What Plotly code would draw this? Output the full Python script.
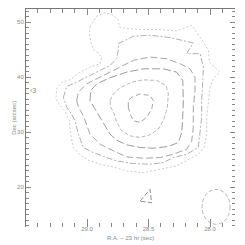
import plotly.graph_objects as go

# Contour vertices (R.A. offset in s, Dec in arcsec), outermost to innermost
c1_x = [28.976, 28.921, 28.854, 28.786, 28.745, 28.737, 28.678, 28.542, 28.407, 28.271, 28.149, 28.108,
        28.054, 28.014, 28.005, 27.919, 27.973, 28.000, 28.014, 28.027, 28.027, 28.049, 28.095, 28.190,
        28.271, 28.407, 28.542, 28.678, 28.786, 28.894, 28.989, 29.057, 29.111, 29.133, 29.144, 29.179,
        29.220, 29.252, 29.247, 29.206, 29.138, 29.057, 28.976, 28.894, 28.881, 28.908, 28.949, 28.970,
        28.981, 28.976]
c1_y = [49.15, 51.10, 51.71, 51.28, 50.37, 49.15, 48.84, 48.66, 48.66, 48.41, 49.45, 48.23,
        46.40, 44.88, 42.74, 40.91, 39.70, 38.17, 35.73, 32.68, 29.63, 27.20, 25.98, 24.88,
        23.84, 23.23, 22.62, 22.93, 23.66, 24.15, 24.88, 25.85, 27.20, 29.63, 32.07, 33.90,
        34.82, 36.04, 37.87, 39.09, 39.51, 40.91, 41.83, 42.44, 43.54, 44.39, 45.00, 46.40,
        47.93, 49.15]

c2_x = [29.192, 29.165, 29.057, 28.921, 28.813, 28.759, 28.745, 28.745, 28.623, 28.488, 28.325, 28.136,
        28.190, 28.081, 28.054, 28.060, 28.068, 28.068, 28.081, 28.095, 28.190, 28.298, 28.379, 28.488,
        28.623, 28.759, 28.840, 28.949, 29.030, 29.070, 29.098, 29.125, 29.165, 29.192]
c2_y = [36.34, 38.29, 39.39, 40.91, 42.13, 43.35, 44.88, 46.10, 47.44, 47.62, 47.20, 46.22,
        44.27, 44.27, 41.83, 38.78, 35.73, 32.68, 29.63, 27.20, 25.98, 25.37, 24.45, 24.15,
        24.27, 24.76, 25.37, 26.28, 27.20, 29.63, 32.07, 33.29, 34.51, 36.34]

c3_x = [29.084, 29.070, 29.003, 28.867, 28.732, 28.623, 28.488, 28.352, 28.244, 28.163, 28.122, 28.122,
        28.136, 28.136, 28.149, 28.190, 28.298, 28.407, 28.542, 28.678, 28.786, 28.894, 28.976, 29.003,
        29.030, 29.070, 29.084]
c3_y = [35.73, 37.26, 38.78, 40.30, 41.83, 43.05, 43.66, 43.35, 42.44, 41.52, 40.00, 37.56,
        34.51, 30.85, 28.41, 26.89, 25.98, 25.37, 25.24, 25.49, 26.59, 27.80, 29.63, 31.46,
        32.99, 34.51, 35.73]

c4_x = [28.976, 28.970, 28.921, 28.813, 28.678, 28.542, 28.379, 28.271, 28.222, 28.217, 28.222, 28.230,
        28.257, 28.339, 28.461, 28.569, 28.678, 28.759, 28.813, 28.854, 28.894, 28.935, 28.976]
c4_y = [35.73, 37.56, 38.78, 39.88, 40.91, 41.52, 41.52, 40.91, 39.39, 35.73, 32.68, 29.94,
        28.11, 27.38, 27.07, 27.20, 27.68, 28.54, 29.63, 31.16, 32.68, 34.21, 35.73]

c5_x = [28.813, 28.786, 28.732, 28.637, 28.542, 28.434, 28.358, 28.339, 28.347, 28.374, 28.420, 28.488,
        28.569, 28.650, 28.718, 28.759, 28.778, 28.808, 28.813]
c5_y = [35.73, 36.95, 38.05, 39.09, 39.51, 39.39, 38.48, 36.95, 34.51, 32.38, 30.55, 29.51,
        29.02, 29.33, 30.24, 31.77, 33.29, 34.51, 35.73]

c6_x = [28.664, 28.664, 28.637, 28.569, 28.488, 28.461, 28.474, 28.515, 28.569, 28.623, 28.650, 28.664]
c6_y = [34.51, 35.73, 36.34, 36.95, 36.65, 35.73, 34.21, 32.68, 31.77, 32.07, 33.29, 34.51]

tri_x = [28.569, 28.488, 28.474, 28.569]
tri_y = [17.44, 19.57, 17.13, 17.44]

beam_center = [27.951, 16.40]
beam_half_axes = [0.114, 3.17]

x_ticks = [29.0, 28.5, 28.0]
x_ticklabels = ["29.0", "28.5", "28.0"]
y_ticks = [50, 40, 30, 20]
y_ticklabels = ["50", "40", "30", "20"]

XR = [29.496, 27.797]
YR = [12.73, 52.40]

contours = [
    (c1_x, c1_y, "#b4b4b4", "2px,2px"),
    (c2_x, c2_y, "#8c8c8c", "6px,2px,2px,2px"),
    (c3_x, c3_y, "#7e7e7e", "7px,3px"),
    (c4_x, c4_y, "#6e6e6e", "8px,3px"),
    (c5_x, c5_y, "#9a9a9a", "4px,2px"),
    (c6_x, c6_y, "#7a7a7a", "5px,3px"),
]

fig = go.Figure()
for cx, cy, col, dash in contours:
    fig.add_trace(go.Scatter(x=cx, y=cy, mode="lines",
                             line=dict(color=col, width=0.7, dash=dash),
                             hoverinfo="skip", showlegend=False))
fig.add_trace(go.Scatter(x=tri_x, y=tri_y, mode="lines",
                         line=dict(color="#777777", width=0.8, dash="5px,2px"),
                         showlegend=False))
# dummy trace to draw top/right axes
fig.add_trace(go.Scatter(x=[None], y=[None], xaxis="x2", yaxis="y2", showlegend=False))

fig.add_shape(type="circle", xref="x", yref="y",
              x0=beam_center[0] - beam_half_axes[0], x1=beam_center[0] + beam_half_axes[0],
              y0=beam_center[1] - beam_half_axes[1], y1=beam_center[1] + beam_half_axes[1],
              line=dict(color="#9a9a9a", width=0.7, dash="4px,2px"))

tickfont = dict(family="Liberation Sans", size=6, color="#888888")
common_minor_x = dict(dtick=0.1, tick0=28.0, ticklen=4, ticks="inside", tickcolor="#888888", tickwidth=1)
common_minor_y = dict(dtick=1, tick0=20, ticklen=3, ticks="inside", tickcolor="#888888", tickwidth=1)

# page body has an 8px margin, so the figure is sized/positioned to compensate
fig.update_layout(
    width=237, height=237,
    margin=dict(l=18, r=10, t=1, b=18),
    paper_bgcolor="white", plot_bgcolor="white",
    xaxis=dict(range=XR, showgrid=False, zeroline=False, showline=False,
               ticks="inside", ticklen=8, tickcolor="#888888", tickwidth=1,
               tickvals=x_ticks, ticktext=x_ticklabels, tickfont=tickfont,
               ticklabelstandoff=-3,
               minor=common_minor_x, automargin=False),
    xaxis2=dict(range=XR, overlaying="x", side="top", anchor="y", showgrid=False, zeroline=False,
                showline=True, linecolor="#777777", linewidth=1,
                ticks="inside", ticklen=6, tickcolor="#888888", tickwidth=1,
                tickvals=x_ticks, showticklabels=False, minor=common_minor_x, automargin=False),
    yaxis=dict(range=YR, showgrid=False, zeroline=False, showline=True,
               linecolor="#777777", linewidth=1,
               ticks="inside", ticklen=5, tickcolor="#888888", tickwidth=1,
               tickvals=y_ticks, ticktext=y_ticklabels, tickfont=tickfont,
               minor=common_minor_y, automargin=False),
    yaxis2=dict(range=YR, overlaying="y", side="right", anchor="x", showgrid=False, zeroline=False,
                showline=False, ticks="inside", ticklen=5, tickcolor="#888888", tickwidth=1,
                tickvals=y_ticks, showticklabels=False, minor=common_minor_y, automargin=False),
    annotations=[
        dict(text="R.A. − 23 hr (sec)", xref="paper", yref="paper", x=0.5, y=-0.05,
             showarrow=False, font=dict(family="Liberation Sans", size=6, color="#888888"),
             yanchor="middle"),
        dict(text="Dec (arcsec)", xref="paper", yref="paper", x=-0.082, y=0.5,
             textangle=-90, showarrow=False,
             font=dict(family="Liberation Sans", size=6, color="#888888"), xanchor="left"),
        dict(text="‹3", xref="x", yref="y", x=29.439, y=37.56, showarrow=False,
             font=dict(family="Liberation Sans", size=7, color="#888888")),
    ],
)

fig.write_html("out.html")
